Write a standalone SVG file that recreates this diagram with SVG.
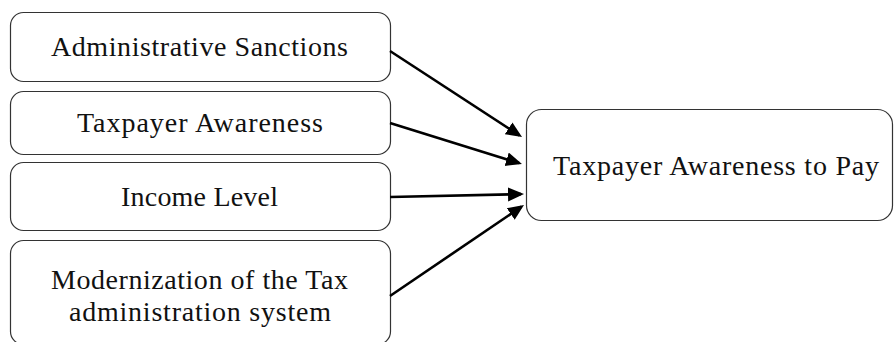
<svg xmlns="http://www.w3.org/2000/svg" width="894" height="342" viewBox="0 0 894 342">
<style>
.box{fill:#fff;stroke:#333;stroke-width:1.2}
.lbl{font-family:"Liberation Serif","Times New Roman",serif;font-size:28px;fill:#111;text-anchor:middle}
.conn{stroke:#000;stroke-width:2.6;fill:none;marker-end:url(#ah)}
</style>
<defs>
<marker id="ah" markerUnits="userSpaceOnUse" markerWidth="18" markerHeight="16" refX="13" refY="7" orient="auto">
<path d="M0,0 L16,7 L0,14 z" fill="#000"/>
</marker>
</defs>
<rect width="894" height="342" fill="#fff"/>
<g id="n1"><rect class="box" x="10.5" y="12.5" width="380" height="69" rx="13"/>
<text class="lbl" x="199.5" y="56" textLength="297">Administrative Sanctions</text></g>
<g id="n2"><rect class="box" x="10.5" y="91.5" width="380" height="63" rx="13"/>
<text class="lbl" x="200" y="131.5" textLength="246">Taxpayer Awareness</text></g>
<g id="n3"><rect class="box" x="10.5" y="162.5" width="380" height="68" rx="13"/>
<text class="lbl" x="199.5" y="205.5" textLength="157">Income Level</text></g>
<g id="n4"><rect class="box" x="10.5" y="240.5" width="380" height="104" rx="13"/>
<text class="lbl" x="199.5" y="289" textLength="297">Modernization of the Tax</text>
<text class="lbl" x="200" y="321" textLength="262">administration system</text></g>
<g id="n5"><rect class="box" x="526.5" y="109.5" width="366" height="111" rx="15"/>
<text class="lbl" x="716" y="174.5" textLength="326">Taxpayer Awareness to Pay</text></g>
<g id="connectors">
<line class="conn" x1="390" y1="51" x2="519.5" y2="135.4"/>
<line class="conn" x1="390" y1="123" x2="519.1" y2="163.1"/>
<line class="conn" x1="390" y1="197" x2="521" y2="194.1"/>
<line class="conn" x1="390" y1="296" x2="521.5" y2="206.7"/>
</g>
</svg>
